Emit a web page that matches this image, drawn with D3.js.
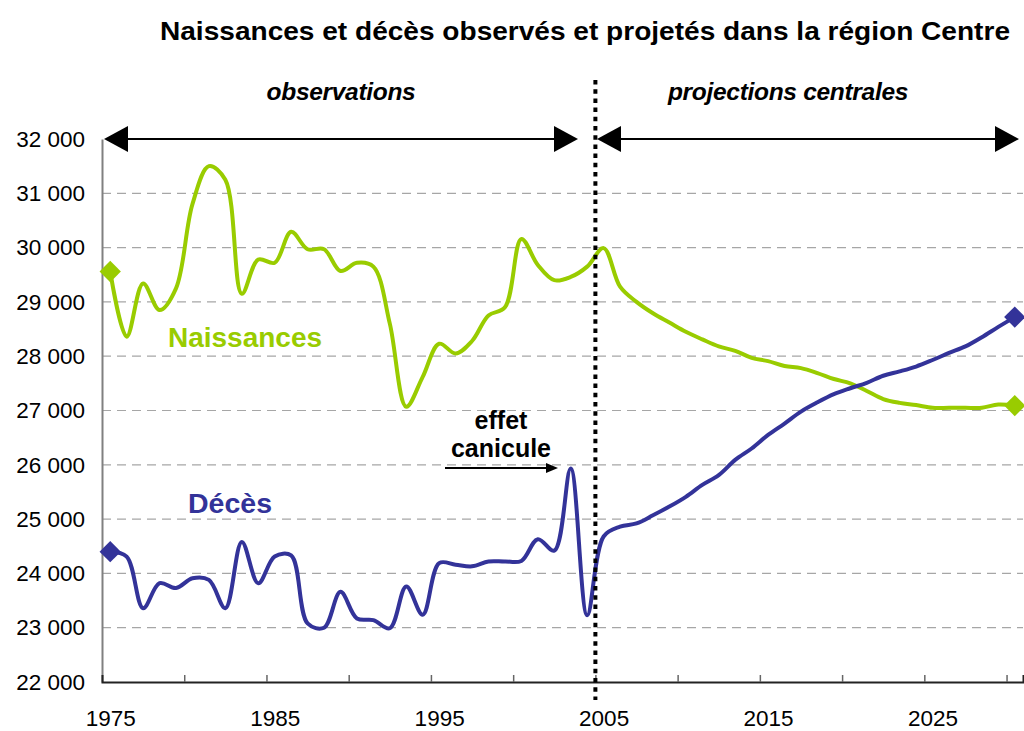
<!DOCTYPE html>
<html>
<head>
<meta charset="utf-8">
<script src="https://cdn.jsdelivr.net/npm/d3@7"></script>
<style>
  body { margin: 0; background: #fff; }
  svg { font-family: "Liberation Sans", Arial, sans-serif; }
</style>
</head>
<body>
<svg id="chart" width="1024" height="731"></svg>
<script>
// yearly values
const years = d3.range(1975, 2031);
const naissances = [
  29560, 28360, 29340, 28850, 29250, 30800, 31500, 31250, 29150, 29780,
  29720, 30290, 29970, 29970, 29570, 29720, 29650, 28600, 27070, 27620,
  28230, 28050, 28280, 28750, 28900, 30160, 29680, 29400, 29460, 29650,
  29990, 29280, 29000, 28790, 28620, 28450, 28310, 28180, 28100, 27970,
  27910, 27820, 27780, 27690, 27580, 27500, 27360, 27210, 27140, 27100,
  27050, 27050, 27050, 27050, 27110, 27090
];
const deces = [
  24400, 24310, 23360, 23820, 23730, 23910, 23880, 23360, 24580, 23820,
  24310, 24330, 23080, 23000, 23660, 23170, 23140, 22990, 23760, 23240,
  24190, 24160, 24130, 24220, 24220, 24230, 24630, 24420, 25930, 23230,
  24680, 24860, 24920, 25070, 25230, 25410, 25630, 25810, 26090, 26300,
  26550, 26760, 26980, 27150, 27300, 27410, 27510, 27640, 27720, 27810,
  27930, 28060, 28180, 28350, 28540, 28720
];
const xLabels = [1975, 1985, 1995, 2005, 2015, 2025];
const xTickBounds = [1979.5, 1984.5, 1989.5, 1994.5, 1999.5, 2004.5, 2009.5, 2014.5, 2019.5, 2024.5, 2029.5];
const yTicks = d3.range(22000, 32001, 1000);
const splitYear = 2004.5;

const green = '#99cc00';
const blue = '#333399';

const svg = d3.select('#chart');
const plotLeft = 102, plotRight = 1023, plotTop = 139, plotBottom = 682;

const x = d3.scaleLinear().domain([1974.5, 2030.5]).range([plotLeft, plotRight]);
const y = d3.scaleLinear().domain([22000, 32000]).range([plotBottom, plotTop]);

const fr = d3.formatLocale({ decimal: ',', thousands: ' ', grouping: [3], currency: ['', ' €'] });
const fmt = fr.format(',');

// title
svg.append('text')
  .attr('x', 585).attr('y', 40)
  .attr('text-anchor', 'middle')
  .attr('font-size', 26).attr('font-weight', 'bold')
  .attr('textLength', 850).attr('lengthAdjust', 'spacingAndGlyphs')
  .text('Naissances et décès observés et projetés dans la région Centre');

// dashed grid
svg.append('g')
  .selectAll('line')
  .data(yTicks.filter(d => d > 22000 && d < 32000))
  .join('line')
  .attr('x1', plotLeft).attr('x2', plotRight)
  .attr('y1', d => y(d)).attr('y2', d => y(d))
  .attr('stroke', '#a6a6a6').attr('stroke-width', 1.2)
  .attr('stroke-dasharray', '9,6');

// y axis
const yAxis = svg.append('g')
  .attr('transform', `translate(${plotLeft},0)`)
  .call(d3.axisLeft(y).tickValues(yTicks).tickSize(0).tickPadding(17).tickFormat(fmt));
yAxis.select('.domain').attr('stroke', '#808080').attr('stroke-width', 2);
yAxis.selectAll('text').attr('font-size', 22.5).attr('fill', '#000')
  .attr('font-family', '"Liberation Sans", Arial, sans-serif');

// x axis: tick marks at category boundaries
const xTicks = svg.append('g')
  .attr('transform', `translate(0,${plotBottom})`)
  .call(d3.axisBottom(x).tickValues(xTickBounds).tickSize(-7).tickFormat(''));
xTicks.select('.domain').attr('stroke', '#222').attr('stroke-width', 2);
xTicks.selectAll('.tick line').attr('stroke', '#666').attr('stroke-width', 1.5);

// x labels
const xLab = svg.append('g')
  .attr('transform', `translate(0,${plotBottom})`)
  .call(d3.axisBottom(x).tickValues(xLabels).tickSize(0).tickPadding(28).tickFormat(d3.format('d')));
xLab.select('.domain').remove();
xLab.selectAll('text').attr('font-size', 22.5).attr('fill', '#000')
  .attr('font-family', '"Liberation Sans", Arial, sans-serif');

// series
const line = d3.line()
  .x((d, i) => x(years[i]))
  .y(d => y(d))
  .curve(d3.curveCatmullRom.alpha(0.5));

svg.append('path').datum(naissances)
  .attr('d', line).attr('fill', 'none')
  .attr('stroke', green).attr('stroke-width', 4).attr('stroke-linejoin', 'round');
svg.append('path').datum(deces)
  .attr('d', line).attr('fill', 'none')
  .attr('stroke', blue).attr('stroke-width', 4).attr('stroke-linejoin', 'round');

// diamond markers on first and last year
const diamond = d3.symbol().type(d3.symbolDiamond2).size(290);
const ends = [0, years.length - 1];
[[naissances, green], [deces, blue]].forEach(([vals, col]) => {
  svg.append('g').selectAll('path')
    .data(ends)
    .join('path')
    .attr('d', diamond)
    .attr('transform', i => `translate(${x(years[i])},${y(vals[i])})`)
    .attr('fill', col);
});

// dotted separator between observations and projections
svg.append('line')
  .attr('x1', x(splitYear)).attr('x2', x(splitYear))
  .attr('y1', 80).attr('y2', 700)
  .attr('stroke', '#000').attr('stroke-width', 4)
  .attr('stroke-dasharray', '4.5,4.7');

// double-headed arrows for the two periods
function arrowHead(tipX, dir) {
  const len = 24, half = 13, yy = y(32000);
  return `M${tipX},${yy}L${tipX + dir * len},${yy - half}L${tipX + dir * len},${yy + half}Z`;
}
function periodArrow(x1, x2) {
  const yy = y(32000);
  svg.append('line').attr('x1', x1 + 10).attr('x2', x2 - 10)
    .attr('y1', yy).attr('y2', yy).attr('stroke', '#000').attr('stroke-width', 2);
  svg.append('path').attr('d', arrowHead(x1, 1)).attr('fill', '#000');
  svg.append('path').attr('d', arrowHead(x2, -1)).attr('fill', '#000');
}
periodArrow(104, 578);
periodArrow(597, 1019);

svg.append('text')
  .attr('x', 341).attr('y', 100).attr('text-anchor', 'middle')
  .attr('font-size', 24.5).attr('font-weight', 'bold').attr('font-style', 'italic')
  .attr('letter-spacing', -0.3)
  .text('observations');
svg.append('text')
  .attr('x', 788).attr('y', 100).attr('text-anchor', 'middle')
  .attr('font-size', 24.5).attr('font-weight', 'bold').attr('font-style', 'italic')
  .attr('letter-spacing', -0.3)
  .text('projections centrales');

// series labels
svg.append('text')
  .attr('x', 245).attr('y', 347).attr('text-anchor', 'middle')
  .attr('font-size', 28).attr('font-weight', 'bold').attr('fill', green)
  .text('Naissances');
svg.append('text')
  .attr('x', 230).attr('y', 513).attr('text-anchor', 'middle')
  .attr('font-size', 28.5).attr('font-weight', 'bold').attr('fill', blue)
  .text('Décès');

// heatwave annotation
svg.append('text')
  .attr('x', 501).attr('y', 429).attr('text-anchor', 'middle')
  .attr('font-size', 25).attr('font-weight', 'bold')
  .text('effet');
svg.append('text')
  .attr('x', 501).attr('y', 457).attr('text-anchor', 'middle')
  .attr('font-size', 25).attr('font-weight', 'bold')
  .text('canicule');
svg.append('line')
  .attr('x1', 445).attr('x2', 548).attr('y1', 468).attr('y2', 468)
  .attr('stroke', '#000').attr('stroke-width', 2);
svg.append('path')
  .attr('d', 'M558,468L546,463L546,473Z').attr('fill', '#000');
</script>
</body>
</html>
